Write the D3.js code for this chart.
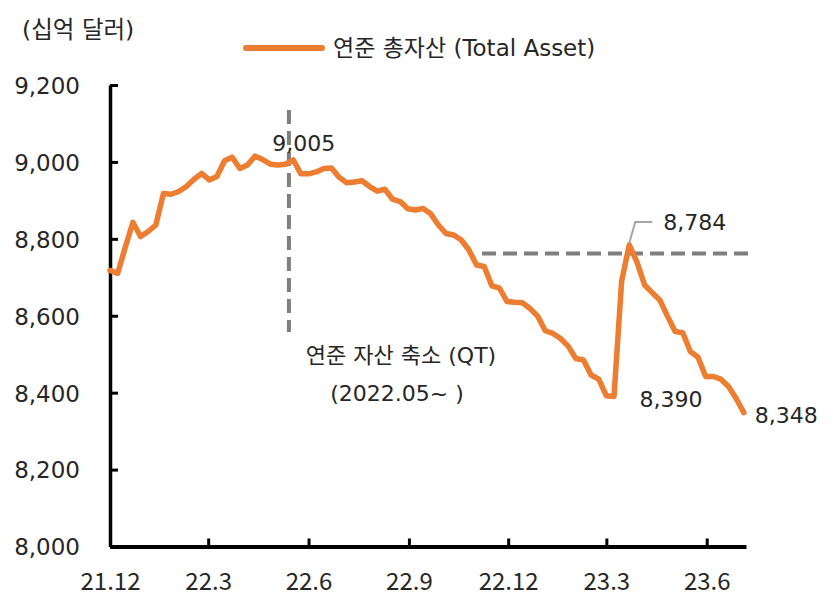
<!DOCTYPE html>
<html><head><meta charset="utf-8">
<script src="https://cdn.jsdelivr.net/npm/d3@7"></script>
<style>body{margin:0;background:#fff;} svg{display:block;}</style>
</head><body><svg id="c" width="838" height="606"></svg>
<script>
// ---- data ----
const dates = [
"2021-12-01","2021-12-08","2021-12-15","2021-12-22","2021-12-29",
"2022-01-05","2022-01-12","2022-01-19","2022-01-26","2022-02-02","2022-02-09","2022-02-16","2022-02-23",
"2022-03-02","2022-03-09","2022-03-16","2022-03-23","2022-03-30","2022-04-06","2022-04-13","2022-04-20","2022-04-27",
"2022-05-04","2022-05-11","2022-05-18","2022-05-25","2022-06-01","2022-06-08","2022-06-15","2022-06-22","2022-06-29",
"2022-07-06","2022-07-13","2022-07-20","2022-07-27","2022-08-03","2022-08-10","2022-08-17","2022-08-24","2022-08-31",
"2022-09-07","2022-09-14","2022-09-21","2022-09-28","2022-10-05","2022-10-12","2022-10-19","2022-10-26",
"2022-11-02","2022-11-09","2022-11-16","2022-11-23","2022-11-30","2022-12-07","2022-12-14","2022-12-21","2022-12-28",
"2023-01-04","2023-01-11","2023-01-18","2023-01-25","2023-02-01","2023-02-08","2023-02-15","2023-02-22",
"2023-03-01","2023-03-08","2023-03-15","2023-03-22","2023-03-29","2023-04-05","2023-04-12","2023-04-19","2023-04-26",
"2023-05-03","2023-05-10","2023-05-17","2023-05-24","2023-05-31","2023-06-07","2023-06-14","2023-06-21","2023-06-28","2023-07-05"
];
const totalAssets = [
8718,8710,8778,8843,8806,
8819,8836,8918,8916,8923,8936,8955,8970,
8953,8962,9003,9012,8983,8992,9015,9006,8994,
8992,8994,9005,8969,8969,8974,8983,8984,8960,
8946,8948,8951,8936,8924,8929,8903,8897,8878,
8875,8879,8865,8836,8814,8810,8797,8771,
8732,8728,8678,8672,8637,8635,8634,8619,8599,
8561,8554,8541,8521,8489,8485,8446,8435,
8392,8390,8690,8784,8740,8680,8660,8641,8599,
8559,8556,8507,8492,8442,8442,8435,8416,8385,8348
];
const yTicks = [8000,8200,8400,8600,8800,9000,9200];
const xTickDates = ["2021-12-01","2022-03-01","2022-06-01","2022-09-01","2022-12-01","2023-03-01","2023-06-01"];
const xTickLabels = ["21.12","22.3","22.6","22.9","22.12","23.3","23.6"];
const seriesName = "연준 총자산 (Total Asset)";
const unitLabel = "(십억 달러)";
const qtStartDate = "2022-05-14";
const qtLabel1 = "연준 자산 축소 (QT)";
const qtLabel2 = "(2022.05~ )";
const refLevel = 8762;
const refStart = "2022-11-07";
const labelQt = {date:"2022-05-18", value:9005};
const labelPeak = {date:"2023-03-22", value:8784};
const labelLow = {date:"2023-03-08", value:8390};
const labelLast = {date:"2023-07-05", value:8348};

// ---- drawing ----
const parse = d3.timeParse("%Y-%m-%d");
const data = dates.map((d,i)=>({date:parse(d), value:totalAssets[i]}));
const svg = d3.select("#c");
const ORANGE = "#ED7D31", GREY = "#7F7F7F", TXT = "#262626";
const numFont = "'DejaVu Sans','Noto Sans CJK KR',sans-serif";
const krFont = "'DejaVu Sans','Noto Sans CJK KR',sans-serif";

const x = d3.scaleTime().domain([parse("2021-12-01"), parse("2023-07-07")]).range([110, 746]);
const y = d3.scaleLinear().domain([8000, 9200]).range([546.5, 85]);

// y axis
const yAxis = svg.append("g").attr("transform","translate(110,0)")
  .call(d3.axisLeft(y).tickValues(yTicks).tickSize(-8).tickSizeOuter(0).tickPadding(30).tickFormat(d3.format(",")));
yAxis.select(".domain").attr("stroke","#000").attr("stroke-width",3.5);
yAxis.selectAll(".tick line").attr("stroke","#000").attr("stroke-width",3);
yAxis.selectAll(".tick text").attr("font-family",numFont).attr("font-size",23).attr("fill",TXT)
  .attr("dy",null).attr("y",8.4);

// x axis
const xAxis = svg.append("g").attr("transform","translate(0,546.5)")
  .call(d3.axisBottom(x).tickValues(xTickDates.map(parse)).tickSize(-8).tickSizeOuter(0)
    .tickFormat((d,i)=>xTickLabels[i]));
xAxis.select(".domain").attr("stroke","#000").attr("stroke-width",4);
xAxis.selectAll(".tick line").attr("stroke","#000").attr("stroke-width",3);
xAxis.selectAll(".tick text").attr("font-family","'Noto Sans CJK KR',sans-serif").attr("font-size",24)
  .attr("fill",TXT).attr("dy",null).attr("y",43);

// reference dashed lines
svg.append("line").attr("x1",x(parse(qtStartDate))).attr("x2",x(parse(qtStartDate)))
  .attr("y1",110).attr("y2",332).attr("stroke",GREY).attr("stroke-width",4).attr("stroke-dasharray","14,7");
svg.append("line").attr("x1",x(parse(refStart))).attr("x2",750)
  .attr("y1",y(refLevel)).attr("y2",y(refLevel)).attr("stroke",GREY).attr("stroke-width",4).attr("stroke-dasharray","14,7");

// series line
const line = d3.line().x(d=>x(d.date)).y(d=>y(d.value));
svg.append("path").datum(data).attr("d",line).attr("fill","none").attr("stroke",ORANGE)
  .attr("stroke-width",5.5).attr("stroke-linejoin","round").attr("stroke-linecap","round");

// peak leader
const px = x(parse(labelPeak.date)), py = y(labelPeak.value);
svg.append("path").attr("d",`M${px},${py-2}L${px+6},${py-23}L${px+23},${py-23}`)
  .attr("fill","none").attr("stroke","#A6A6A6").attr("stroke-width",2);

// annotations
const fmt = d3.format(",");
function label(t, xx, yy, anchor, size){
  svg.append("text").attr("x",xx).attr("y",yy).attr("text-anchor",anchor||"start")
    .attr("font-family",krFont).attr("font-size",size||22).attr("fill",TXT).text(t);
}
label(fmt(labelQt.value), x(parse(labelQt.date))-21, 151);
label(fmt(labelPeak.value), px+34, py-15);
label(fmt(labelLow.value), x(parse(labelLow.date))+57, y(labelLow.value)+10, "middle");
label(fmt(labelLast.value), x(parse(labelLast.date))+11, y(labelLast.value)+10);
label(qtLabel1, 401, 363, "middle");
label(qtLabel2, 397, 401, "middle");

// unit + legend
label(unitLabel, 22, 38, "start", 23.5);
svg.append("line").attr("x1",246).attr("x2",322).attr("y1",48).attr("y2",48)
  .attr("stroke",ORANGE).attr("stroke-width",6).attr("stroke-linecap","round");
label(seriesName, 333, 56, "start", 23);
</script></body></html>
